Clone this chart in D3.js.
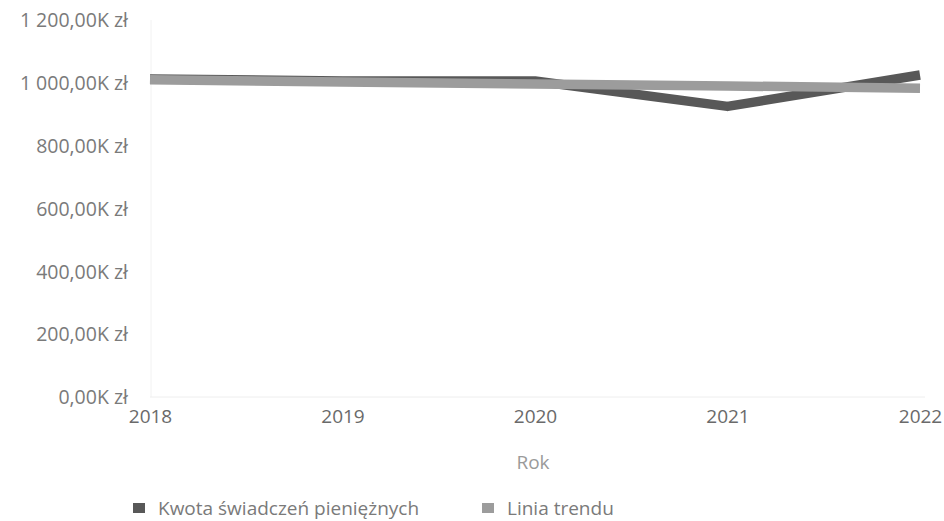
<!DOCTYPE html>
<html><head><meta charset="utf-8">
<script src="https://cdn.jsdelivr.net/npm/d3@7"></script>
<style>body{margin:0;background:#fff;} svg{display:block;}</style>
</head><body><svg id="c" width="944" height="521"></svg>
<script>
const years = ["2018","2019","2020","2021","2022"];
const kwota = [1012, 1006, 1006, 925, 1025];
const trend = [1010, 1003, 996, 990, 983];
const yTicks = [0, 200, 400, 600, 800, 1000, 1200];
const seriesNames = ["Kwota świadczeń pieniężnych", "Linia trendu"];
const colors = ["#585858", "#9c9c9c"];

const svg = d3.select("#c");
const font = "'Open Sans', 'Noto Sans', sans-serif";
const x = d3.scalePoint().domain(years).range([150, 920]);
const y = d3.scaleLinear().domain([0, 1200]).range([397, 20]);

svg.append("line").attr("x1",151).attr("x2",151).attr("y1",20).attr("y2",397).attr("stroke","#f2f2f2");
svg.append("line").attr("x1",150).attr("x2",925).attr("y1",397).attr("y2",397).attr("stroke","#eeeeee");

const yAxis = svg.append("g").attr("transform","translate(128,0)")
  .call(d3.axisLeft(y).tickValues(yTicks).tickSize(0).tickPadding(0)
    .tickFormat(d => d3.format(",.2f")(d).replace(/,/g," ").replace(".",",") + "K zł"));
yAxis.select(".domain").remove();
yAxis.selectAll("text").attr("font-family",font).attr("font-size",19.5).attr("fill","#7a7a7a").attr("dy","0.35em");

const xAxis = svg.append("g").attr("transform","translate(0,406)")
  .call(d3.axisBottom(x).tickSize(0).tickPadding(0));
xAxis.select(".domain").remove();
xAxis.selectAll("text").attr("font-family",font).attr("font-size",19).attr("fill","#6a6a6a").attr("dy","0.9em");

svg.append("text").attr("x",533).attr("y",469).attr("text-anchor","middle")
  .attr("font-family",font).attr("font-size",19).attr("fill","#9a9a9a").text("Rok");

const line = d3.line().x((d,i)=>x(years[i])).y(d=>y(d));
svg.append("path").datum(kwota).attr("d",line).attr("fill","none")
  .attr("stroke",colors[0]).attr("stroke-width",9.5).attr("stroke-linejoin","round");
svg.append("path").datum(trend).attr("d",line).attr("fill","none")
  .attr("stroke",colors[1]).attr("stroke-width",9.5);

const legX = [133, 482];
const lg = svg.append("g");
seriesNames.forEach((n,i)=>{
  lg.append("rect").attr("x",legX[i]).attr("y",503).attr("width",12).attr("height",10).attr("fill",colors[i]);
  lg.append("text").attr("x",legX[i]+25).attr("y",508).attr("dy","0.35em")
    .attr("font-family",font).attr("font-size",19).attr("fill","#7a7a7a").text(n);
});
</script></body></html>
